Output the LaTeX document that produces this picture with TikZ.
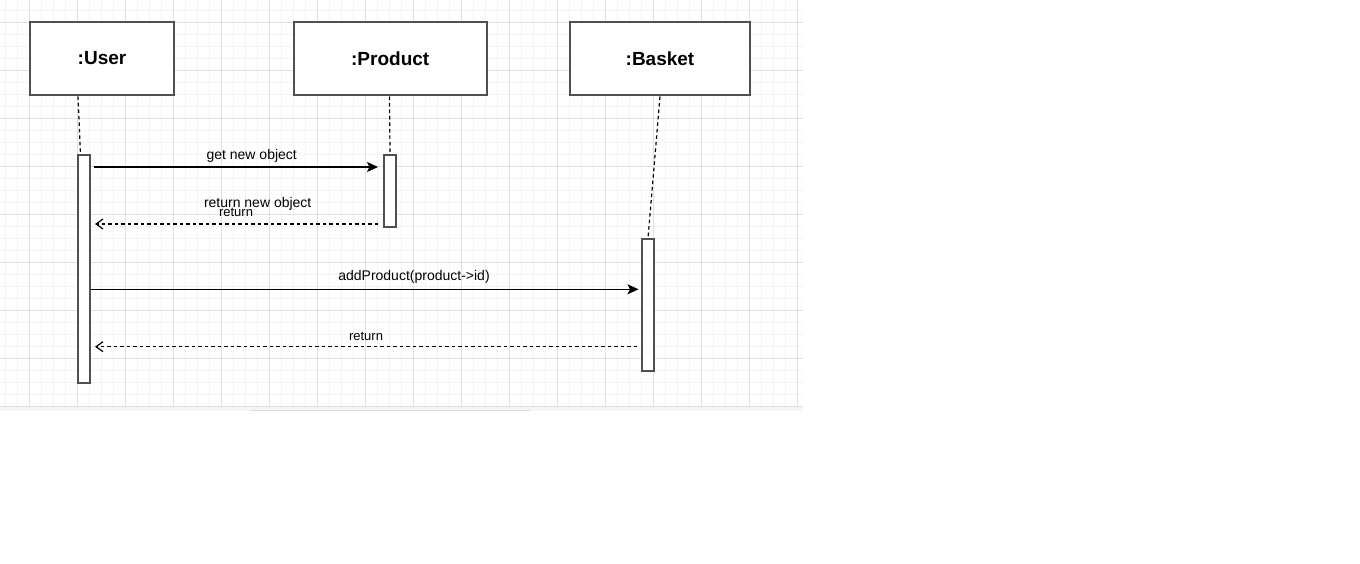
\documentclass[tikz,border=0pt]{standalone}
\usepackage{fontspec}
\setmainfont{Liberation Sans}
\usetikzlibrary{arrows.meta}
\definecolor{gridminor}{HTML}{F3F3F3}
\definecolor{gridmajor}{HTML}{E0E0E0}
\definecolor{boxline}{HTML}{505050}
\definecolor{stripcol}{HTML}{F4F5F7}
\definecolor{scrollcol}{HTML}{DADCE0}
\begin{document}
\begin{tikzpicture}[x=1pt,y=-1pt,
  lifebox/.style={draw=boxline, line width=1.7pt, fill=white, minimum height=73pt, inner sep=0pt, font=\bfseries\fontsize{19}{22}\selectfont},
  actbar/.style={draw=boxline, line width=1.7pt, fill=white, minimum width=12pt, inner sep=0pt},
  msg/.style={line width=1.4pt, -{Stealth[length=11pt,width=10pt,inset=2.5pt]}},
  retmsg/.style={line width=1.2pt, dash pattern=on 3.5pt off 3pt, -{Straight Barb[length=7pt,width=10pt]}},
  lifeline/.style={line width=1.2pt, dash pattern=on 3.5pt off 3pt},
  lbl/.style={inner sep=0pt, anchor=base, font=\fontsize{14}{16}\selectfont},
  lblsmall/.style={inner sep=0pt, anchor=base, font=\fontsize{13}{15}\selectfont}]
\useasboundingbox (0,0) rectangle (1360,564);
\fill[white] (0,0) rectangle (1360,564);
% grid
\foreach \i in {0,...,66} \draw[gridminor, line width=1pt] ({5.3+12*\i},0) -- ({5.3+12*\i},406.5);
\foreach \j in {0,...,33} \draw[gridminor, line width=1pt] (0,{10.3+12*\j}) -- (802.7,{10.3+12*\j});
\foreach \i in {0,...,16} \draw[gridmajor, line width=1pt] ({29.3+48*\i},0) -- ({29.3+48*\i},406.5);
\foreach \j in {0,...,8} \draw[gridmajor, line width=1pt] (0,{22.3+48*\j}) -- (802.7,{22.3+48*\j});
\fill[stripcol] (0,406.8) rectangle (802.7,410.8);
\draw[scrollcol, line width=1.2pt] (250,410.3) -- (530,410.3);
% lifeline heads
\node[lifebox, minimum width=144pt] (user) at (102,58.5) {:User};
\node[lifebox, minimum width=193pt] (product) at (390.2,58.5) {:Product};
\node[lifebox, minimum width=180pt] (basket) at (660,58.5) {:Basket};
% lifelines
\coordinate (ulA) at (78,96.5);
\coordinate (ulB) at (80.5,154);
\coordinate (plA) at (389.5,96.5);
\coordinate (blA) at (660,96.5);
% activation bars
\node[actbar, minimum height=228pt] (ubar) at (84,269) {};
\node[actbar, minimum height=72pt] (pbar) at (390,191) {};
\node[actbar, minimum height=132pt] (bbar) at (648,305) {};
\draw[lifeline] (ulA) -- (ulB);
\draw[lifeline] (plA) -- (pbar.north);
\draw[lifeline] (blA) -- (bbar.north);
% messages
\coordinate (m1s) at (93.5,167);
\coordinate (m1e) at (378,167);
\coordinate (m2s) at (378,224);
\coordinate (m2e) at (95,224);
\coordinate (m3s) at (90.5,289.3);
\coordinate (m3e) at (638.5,289.3);
\coordinate (m4s) at (637,346.7);
\coordinate (m4e) at (95,346.7);
\draw[msg] (m1s) -- (m1e);
\draw[retmsg] (m2s) -- (m2e);
\draw[msg] (m3s) -- (m3e);
\draw[retmsg] (m4s) -- (m4e);
% labels
\node[lbl] (l1) at (251.7,160) {get new object};
\node[lbl] (l2) at (257.7,207.3) {return new object};
\node[lblsmall] (l3) at (236,216.5) {return};
\node[lbl] (l4) at (414,280) {addProduct(product->id)};
\node[lblsmall] (l5) at (366,340) {return};
\end{tikzpicture}
\end{document}
